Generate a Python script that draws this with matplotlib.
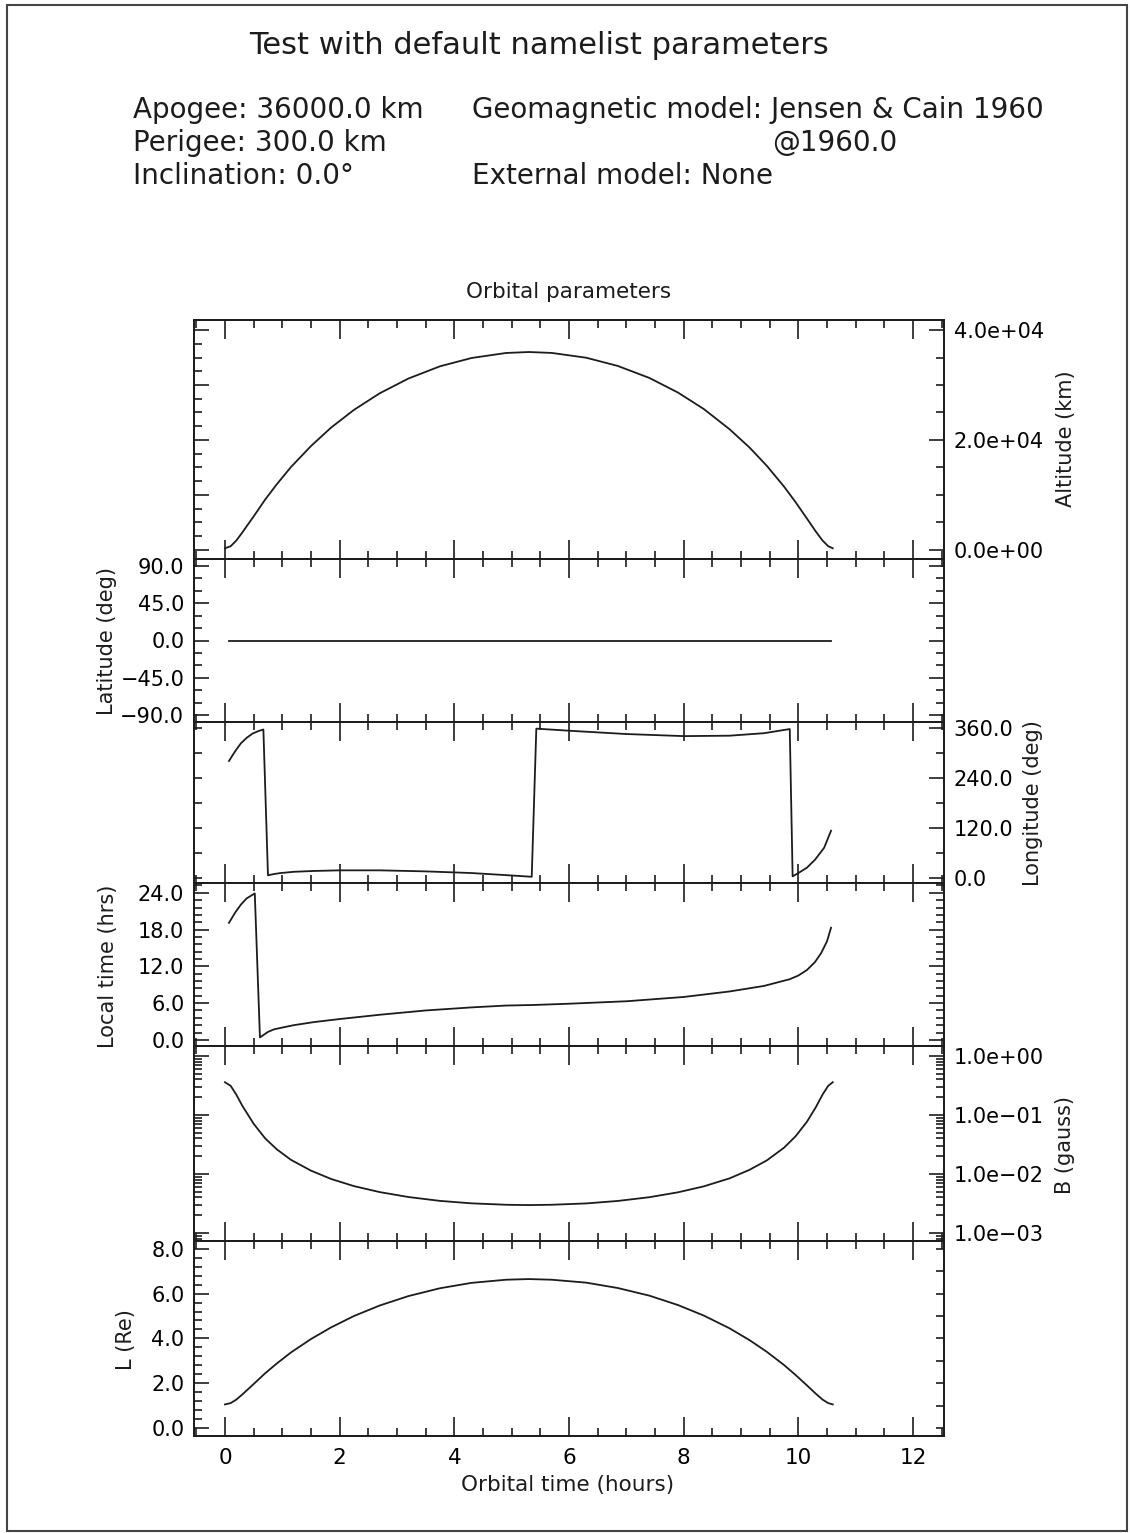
import numpy as np
import matplotlib
matplotlib.use('Agg')
import matplotlib.pyplot as plt
from matplotlib.ticker import MultipleLocator, LogLocator, FuncFormatter, NullFormatter
from matplotlib.patches import Rectangle

# --- values ---
orbit_hours = [0.0, 0.1, 0.2, 0.3, 0.5, 0.7, 0.9, 1.15, 1.5, 1.85, 2.25, 2.7, 3.2, 3.75, 4.3, 4.9, 5.3,
               5.7, 6.3, 6.85, 7.4, 7.9, 8.35, 8.8, 9.15, 9.45, 9.75, 9.95, 10.15, 10.3, 10.42, 10.52, 10.6]
altitude_km = [300, 690, 1740, 3150, 6100, 9150, 11900, 15070, 18900, 22250, 25480, 28500, 31180, 33400,
               34910, 35820, 36000, 35830, 34960, 33470, 31290, 28630, 25640, 21960, 18620, 15300, 11530,
               8720, 5710, 3420, 1740, 690, 310]
b_gauss = [0.360, 0.312, 0.220, 0.145, 0.0711, 0.0403, 0.0264, 0.0174, 0.0114, 0.00824, 0.00623, 0.00493,
           0.00407, 0.00350, 0.00318, 0.00301, 0.00297, 0.00301, 0.00317, 0.00349, 0.00404, 0.00489,
           0.00617, 0.00843, 0.0118, 0.0170, 0.0279, 0.0434, 0.0770, 0.133, 0.220, 0.312, 0.360]
l_shell = [1.05, 1.11, 1.27, 1.49, 1.96, 2.44, 2.87, 3.37, 3.97, 4.49, 5.00, 5.47, 5.89, 6.24, 6.48, 6.62,
           6.65, 6.62, 6.49, 6.25, 5.91, 5.49, 5.02, 4.45, 3.92, 3.40, 2.81, 2.37, 1.90, 1.54, 1.27, 1.11, 1.05]

lat_hours = [0.07, 10.57]
latitude_deg = [0.0, 0.0]

lon_hours = [0.07, 0.18, 0.28, 0.38, 0.48, 0.58, 0.67, 0.75, 0.85, 0.97, 1.2, 1.55, 2.0, 2.7, 3.5, 4.3,
             4.9, 5.35, 5.43, 6.0, 7.0, 8.0, 8.8, 9.4, 9.85, 9.9, 10.0, 10.15, 10.29, 10.45, 10.57]
longitude_deg = [281, 305, 324, 337, 347, 353, 357, 5.5, 8.5, 11, 14, 16, 17.5, 17.5, 15, 11, 6, 2,
                 359, 354, 346, 341, 342, 348, 358, 3, 11, 24, 43, 72, 113]

lt_hours = [0.07, 0.18, 0.28, 0.38, 0.52, 0.61, 0.75, 0.85, 0.97, 1.2, 1.55, 2.0, 2.7, 3.5, 4.3, 4.9,
            5.4, 6.0, 7.0, 8.0, 8.8, 9.4, 9.85, 10.0, 10.15, 10.29, 10.4, 10.5, 10.57]
local_time_hrs = [19.1, 20.8, 22.1, 23.1, 23.9, 0.4, 1.3, 1.7, 1.95, 2.4, 2.9, 3.4, 4.1, 4.8, 5.3, 5.6,
                  5.7, 5.9, 6.3, 7.0, 7.9, 8.8, 9.9, 10.5, 11.4, 12.7, 14.2, 16.1, 18.3]

W, H = 1130, 1533
INK = '#1c1c1c'
plt.rcParams['font.family'] = ['DejaVu Sans']

fig = plt.figure(figsize=(W / 100, H / 100), dpi=100)


def fx(x):
    return x / W


def fy(y):
    return 1 - y / H


def clean(v):
    return 0.0 if abs(v) < 1e-9 else v


fixed_fmt = FuncFormatter(lambda v, p: f'{clean(v):.1f}'.replace('-', '\u2212'))
sci_fmt = FuncFormatter(lambda v, p: f'{clean(v):.1e}'.replace('-', '\u2212'))


def panel(top, bottom, ylim, log=False, bottom_labels=False):
    ax = fig.add_axes([fx(194), fy(bottom), fx(750), (bottom - top) / H])
    if log:
        ax.set_yscale('log')
    ax.set_xlim(-0.54, 12.54)
    ax.set_ylim(*ylim)
    ax.xaxis.set_major_locator(MultipleLocator(2))
    ax.xaxis.set_minor_locator(MultipleLocator(0.5))
    ax.tick_params(axis='x', which='both', direction='in', top=True, bottom=True,
                   labelbottom=bottom_labels, width=1.2, color=INK, labelsize=15.5, pad=9)
    ax.tick_params(axis='x', which='major', length=13.7)
    ax.tick_params(axis='x', which='minor', length=6)
    for s in ax.spines.values():
        s.set_linewidth(1.3)
        s.set_color(INK)
    axr = ax.twinx()
    if log:
        axr.set_yscale('log')
    axr.set_ylim(*ylim)
    for a, side in ((ax, 'left'), (axr, 'right')):
        a.tick_params(axis='y', which='both', direction='in', left=(side == 'left'),
                      right=(side == 'right'), width=1.2, color=INK, labelsize=15, pad=7)
        a.tick_params(axis='y', which='major', length=10.8)
        a.tick_params(axis='y', which='minor', length=5.8)
    for s in axr.spines.values():
        s.set_linewidth(1.3)
        s.set_color(INK)
    return ax, axr


def set_ticks(a, major, minor=None, fmt=None):
    a.yaxis.set_major_locator(major)
    if minor is not None:
        a.yaxis.set_minor_locator(minor)
    a.yaxis.set_major_formatter(fmt if fmt is not None else NullFormatter())
    a.yaxis.set_minor_formatter(NullFormatter())


line_kw = dict(color=INK, lw=1.3)

# Altitude
ax, axr = panel(320, 559, (-1640, 41820))
ax.plot(orbit_hours, altitude_km, **line_kw)
set_ticks(ax, MultipleLocator(10000), MultipleLocator(2500))
set_ticks(axr, MultipleLocator(20000), MultipleLocator(5000), sci_fmt)

# Latitude
ax, axr = panel(559, 722, (-98.5, 98.5))
ax.plot(lat_hours, latitude_deg, **line_kw)
set_ticks(ax, MultipleLocator(45), MultipleLocator(15), fixed_fmt)
set_ticks(axr, MultipleLocator(45), MultipleLocator(15))

# Longitude
ax, axr = panel(722, 883, (-13, 375))
ax.plot(lon_hours, longitude_deg, **line_kw)
set_ticks(ax, MultipleLocator(60))
ax.tick_params(axis='y', which='major', length=5.8)
set_ticks(axr, MultipleLocator(120), MultipleLocator(60), fixed_fmt)

# Local time
ax, axr = panel(883, 1046, (-1.0, 25.6))
ax.plot(lt_hours, local_time_hrs, **line_kw)
set_ticks(ax, MultipleLocator(6), MultipleLocator(1.2), fixed_fmt)
set_ticks(axr, MultipleLocator(6), MultipleLocator(1.2))

# B field
ax, axr = panel(1046, 1241, (10 ** -3.136, 10 ** 0.17), log=True)
ax.plot(orbit_hours, b_gauss, **line_kw)
subs = [2, 3, 4, 5, 6, 7, 8, 9]
set_ticks(ax, LogLocator(base=10), LogLocator(base=10, subs=subs))
set_ticks(axr, LogLocator(base=10), LogLocator(base=10, subs=subs), sci_fmt)

# L shell
ax, axr = panel(1241, 1436, (-0.36, 8.35), bottom_labels=True)
ax.plot(orbit_hours, l_shell, **line_kw)
set_ticks(ax, MultipleLocator(2), MultipleLocator(0.4), fixed_fmt)
set_ticks(axr, MultipleLocator(1))
axr.tick_params(axis='y', which='major', length=5.8)

# header text
fig.text(fx(539), fy(45), 'Test with default namelist parameters', fontsize=22, ha='center', va='center', color=INK)
info = 20
left_col = ['Apogee: 36000.0 km', 'Perigee: 300.0 km', 'Inclination: 0.0\u00b0']
for i, s in enumerate(left_col):
    fig.text(fx(133), fy(110 + 33 * i), s, fontsize=info, ha='left', va='center', color=INK)
fig.text(fx(472), fy(110), 'Geomagnetic model: Jensen & Cain 1960', fontsize=info, ha='left', va='center', color=INK)
fig.text(fx(772), fy(143), '@1960.0', fontsize=info, ha='left', va='center', color=INK)
fig.text(fx(472), fy(176), 'External model: None', fontsize=info, ha='left', va='center', color=INK)

fig.text(fx(569), fy(292), 'Orbital parameters', fontsize=15.5, ha='center', va='center', color=INK)
fig.text(fx(568), fy(1485), 'Orbital time (hours)', fontsize=15.5, ha='center', va='center', color=INK)

ylabels = [('Altitude (km)', 1066, 439), ('Latitude (deg)', 107, 641), ('Longitude (deg)', 1033, 803),
           ('Local time (hrs)', 108, 966), ('B (gauss)', 1065, 1145), ('L (Re)', 126, 1340)]
for s, x, y in ylabels:
    fig.text(fx(x), fy(y), s, fontsize=15, rotation=90, ha='center', va='center', color=INK)

# page frame
fig.add_artist(Rectangle((fx(7), fy(1531)), fx(1120), (1531 - 5) / H, transform=fig.transFigure,
                         fill=False, lw=1.5, edgecolor='#444444'))

fig.savefig('out.png', dpi=100)
